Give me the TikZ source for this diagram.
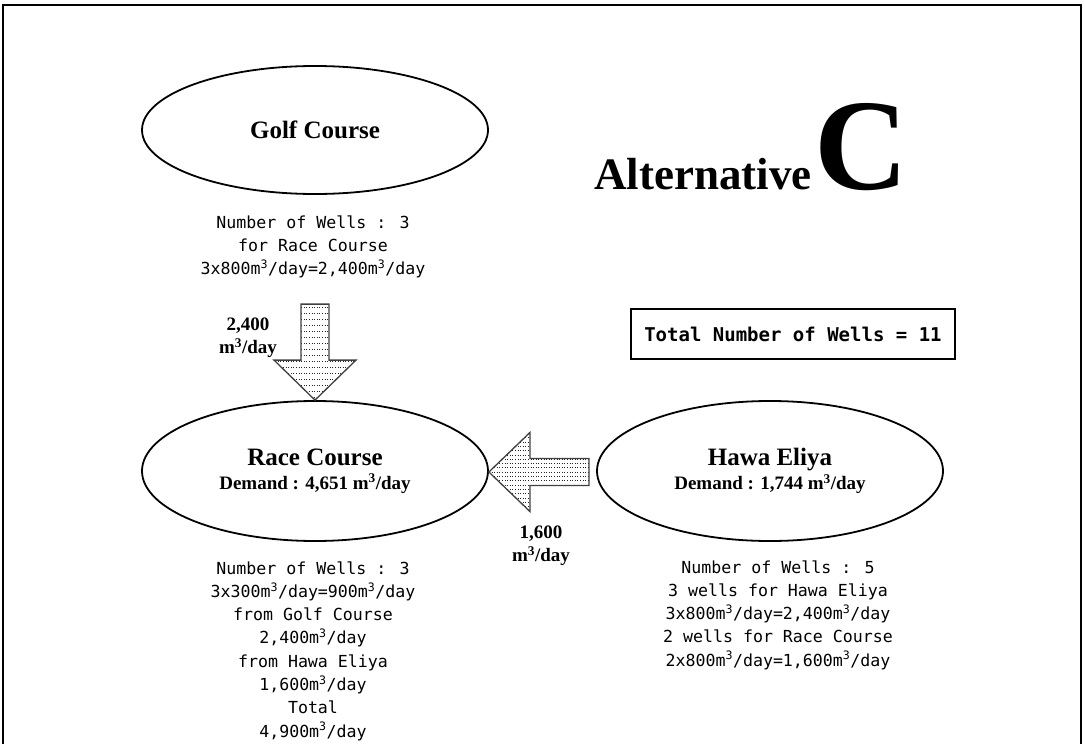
\documentclass[tikz,border=0pt]{standalone}
\usepackage{fontspec}
\setmainfont{Liberation Serif}
\newfontfamily\monof{DejaVu Sans Mono}
\usetikzlibrary{shapes.geometric,calc}
\begin{document}
\begin{tikzpicture}[x=1pt,y=-1pt,
  site/.style={ellipse,draw,line width=1.8pt,minimum width=346pt,minimum height=140pt,inner sep=0pt,align=center,font=\bfseries\fontsize{25}{28}\selectfont},
  info/.style={align=center,font=\monof\fontsize{16.6}{23.3}\selectfont,inner sep=0pt},
  flowlbl/.style={align=center,font=\bfseries\fontsize{19}{23}\selectfont,inner sep=0pt},
  blockarrow/.style={draw=black!75,line width=1.3pt,line join=miter},
  hatch/.style={draw=black!85,line width=0.5pt,dash pattern=on 1pt off 1.6pt},
]
\clip (0,0) rectangle (1085,744);
\draw[line width=2.5pt] (3,760) -- (3,5) -- (1081,5) -- (1081,760);

% sites
\node[site,minimum height=128pt] (golf) at (315,130) {Golf Course};
\node[site] (race) at (315,471) {Race Course\\[-4pt]{\fontsize{19}{22}\selectfont Demand : 4,651 m\textsuperscript{3}/day}};
\node[site] (hawa) at (770,471) {Hawa Eliya\\[-4pt]{\fontsize{19}{22}\selectfont Demand : 1,744 m\textsuperscript{3}/day}};

% title
\node[anchor=base west,inner sep=0pt] (title) at (594,189) {\bfseries\fontsize{45}{50}\selectfont Alternative\kern3pt{\fontsize{130}{130}\selectfont C}};

% total box
\node[draw,line width=1.2pt,minimum width=324pt,minimum height=50pt,inner sep=0pt,font=\monof\bfseries\fontsize{19}{22}\selectfont] (total) at (793,334) {Total Number of Wells = 11};

% info texts
\node[info] (golfinfo) at (313,247) {Number of Wells : 3\\for Race Course\\3x800m\textsuperscript{3}/day=2,400m\textsuperscript{3}/day};
\node[info] (raceinfo) at (313,651) {Number of Wells : 3\\3x300m\textsuperscript{3}/day=900m\textsuperscript{3}/day\\from Golf Course\\2,400m\textsuperscript{3}/day\\from Hawa Eliya\\1,600m\textsuperscript{3}/day\\Total\\4,900m\textsuperscript{3}/day};
\node[info] (hawainfo) at (778,615) {Number of Wells : 5\\3 wells for Hawa Eliya\\3x800m\textsuperscript{3}/day=2,400m\textsuperscript{3}/day\\2 wells for Race Course\\2x800m\textsuperscript{3}/day=1,600m\textsuperscript{3}/day};

% flow labels
\node[flowlbl] (lbl2400) at (248,338) {2,400\\m\textsuperscript{3}/day};
\node[flowlbl] (lbl1600) at (541,546) {1,600\\m\textsuperscript{3}/day};

% down block arrow (Golf -> Race)
\coordinate (dtip) at (race.north);
\coordinate (d1) at ($(dtip)+(-41,-40)$);
\coordinate (d2) at ($(dtip)+(-14,-40)$);
\coordinate (d3) at ($(dtip)+(-14,-96)$);
\coordinate (d4) at ($(dtip)+(14,-96)$);
\coordinate (d5) at ($(dtip)+(14,-40)$);
\coordinate (d6) at ($(dtip)+(41,-40)$);
\begin{scope}
  \clip (dtip) -- (d1) -- (d2) -- (d3) -- (d4) -- (d5) -- (d6) -- cycle;
  \foreach \k in {0,...,16}
    \draw[hatch] ($(dtip)+(-45,-93+6*\k)$) -- ($(dtip)+(45,-93+6*\k)$);
\end{scope}
\draw[blockarrow] (dtip) -- (d1) -- (d2) -- (d3) -- (d4) -- (d5) -- (d6) -- cycle;

% left block arrow (Hawa -> Race)
\coordinate (ltip) at ($(race.east)+(0,1)$);
\coordinate (l1) at ($(ltip)+(41,-39.5)$);
\coordinate (l2) at ($(ltip)+(41,-13.5)$);
\coordinate (l3) at ($(ltip)+(100,-13.5)$);
\coordinate (l4) at ($(ltip)+(100,13.5)$);
\coordinate (l5) at ($(ltip)+(41,13.5)$);
\coordinate (l6) at ($(ltip)+(41,39.5)$);
\begin{scope}
  \clip (ltip) -- (l1) -- (l2) -- (l3) -- (l4) -- (l5) -- (l6) -- cycle;
  \foreach \k in {0,...,18}
    \draw[hatch] ($(ltip)+(0,-38.7+4.3*\k)$) -- ($(ltip)+(104,-38.7+4.3*\k)$);
\end{scope}
\draw[blockarrow] (ltip) -- (l1) -- (l2) -- (l3) -- (l4) -- (l5) -- (l6) -- cycle;
\end{tikzpicture}
\end{document}
